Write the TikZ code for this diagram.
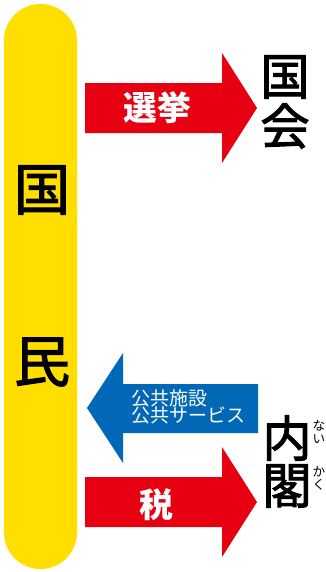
\documentclass[tikz,border=0pt]{standalone}
\usepackage{fontspec}
\setmainfont{Noto Sans CJK JP}
\newfontfamily\kanjimedium{Noto Sans CJK JP}[FakeBold=2]
\usetikzlibrary{positioning}
\definecolor{minyellow}{HTML}{FFDE00}
\definecolor{arrowred}{HTML}{E60012}
\definecolor{arrowblue}{HTML}{0068B7}
\tikzset{
  bigkanji/.style={font=\fontsize{40}{40}\kanjimedium, inner sep=0pt},
  organ/.style={font=\fontsize{35}{35}\kanjimedium, inner sep=0pt},
  arrowtext/.style={text=white, font=\fontsize{24}{24}\selectfont\bfseries, inner sep=0pt},
  servicetext/.style={text=white, font=\fontsize{13.5}{13.5}\selectfont, inner sep=0pt, anchor=west},
  rubytext/.style={font=\fontsize{9}{9}\selectfont, inner sep=0pt}
}

\begin{document}
\begin{tikzpicture}[x=0.025cm, y=-0.025cm]
\useasboundingbox (0,0) rectangle (326,572);

% the people
\fill[minyellow, rounded corners=0.91cm] (4,4) rectangle (77,569);
\node[bigkanji] (koku) at (42,190) {国};
\node[bigkanji] (min) at (42,362) {民};

% election -> diet
\fill[arrowred] (85,83)--++(137,0)--++(0,-30)--++(35,55)--++(-35,55)--++(0,-30)--++(-137,0)--cycle;
\node[arrowtext] (senkyo) at (157,108) {選挙};
\node[organ] (kokkai1) at (285,77) {国};
\node[organ] (kokkai2) at (285,126) {会};

% services <- cabinet
\fill[arrowblue] (258,384)--++(-135,0)--++(0,-31)--++(-36,55)--++(36,55)--++(0,-30)--++(135,0)--cycle;
\node[servicetext] (shisetsu) at (131,398.5) {公共施設};
\node[servicetext] (service) at (131,415.5) {公共サービス};

% tax -> cabinet
\fill[arrowred] (85,477)--++(137,0)--++(0,-30)--++(35,55)--++(-35,55)--++(0,-30)--++(-137,0)--cycle;
\node[arrowtext] (zei) at (156,505) {税};
\node[organ] (nai) at (287,438) {内};
\node[organ] (kaku) at (287,486) {閣};

% ruby
\node[rubytext] (na) at (319,426) {な};
\node[rubytext] (i) at (319,439) {い};
\node[rubytext] (ka) at (319,472) {か};
\node[rubytext] (ku) at (319,485) {く};

\end{tikzpicture}
\end{document}
